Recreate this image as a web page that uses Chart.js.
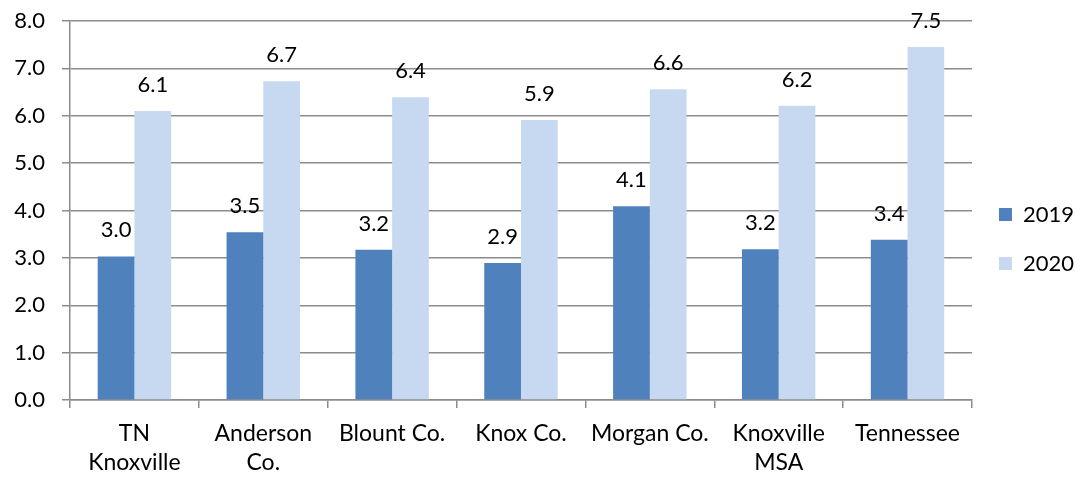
<!DOCTYPE html>
<html>
<head>
<meta charset="utf-8">
<script src="https://cdn.jsdelivr.net/npm/chart.js@4"></script>
<style>
  html, body { margin: 0; padding: 0; background: #fff; }
  #wrap { width: 1080px; height: 478px; }
</style>
</head>
<body>
<div id="wrap"><canvas id="chart" width="1080" height="478"></canvas></div>
<script>
// ── Data ─────────────────────────────────────────────────
const categories = [['TN', 'Knoxville'], ['Anderson', 'Co.'], 'Blount Co.', 'Knox Co.', 'Morgan Co.', ['Knoxville', 'MSA'], 'Tennessee'];
const seriesNames = ['2019', '2020'];
const values2019 = [3.03, 3.54, 3.17, 2.89, 4.09, 3.18, 3.38];
const values2020 = [6.10, 6.73, 6.39, 5.91, 6.56, 6.21, 7.45];
const colors     = ['#4F81BD', '#C6D9F1'];

const FONT = 'Lato, "Open Sans", sans-serif';
const GRID = '#8C8C8C';

// ── Value labels above each bar ──────────────────────────
const valueLabels = {
    id: 'valueLabels',
    afterDatasetsDraw(chart) {
        const ctx = chart.ctx;
        ctx.save();
        ctx.font = `22px ${FONT}`;
        ctx.fillStyle = '#000';
        ctx.textAlign = 'center';
        ctx.textBaseline = 'alphabetic';
        chart.data.datasets.forEach((ds, di) => {
            chart.getDatasetMeta(di).data.forEach((bar, i) => {
                ctx.fillText(ds.data[i].toFixed(1), bar.x, bar.y - 19);
            });
        });
        ctx.restore();
    }
};

new Chart(document.getElementById('chart'), {
    type: 'bar',
    data: {
        labels: categories,
        datasets: [
            { label: seriesNames[0], data: values2019, backgroundColor: colors[0] },
            { label: seriesNames[1], data: values2020, backgroundColor: colors[1] },
        ],
    },
    options: {
        responsive: false,
        animation: false,
        layout: { padding: { top: 0, right: -4, left: 0, bottom: 0 } },
        datasets: { bar: { categoryPercentage: 0.57, barPercentage: 1.0 } },
        plugins: {
            legend: {
                position: 'right',
                labels: { boxWidth: 13, boxHeight: 13, padding: 27, color: '#000', font: { family: FONT, size: 22 } },
            },
            tooltip: { enabled: false },
        },
        scales: {
            x: {
                offset: true,
                grid: { display: true, drawOnChartArea: false, drawTicks: true, tickLength: 8, color: GRID, lineWidth: 1.5, offset: true },
                border: { color: GRID, width: 1.5 },
                ticks: { color: '#000', padding: 11, maxRotation: 0, autoSkip: false, font: { family: FONT, size: 23, lineHeight: 1.26 } },
                afterFit(s) { s.height = 78; },
            },
            y: {
                min: 0, max: 8,
                grid: { color: GRID, lineWidth: 1.5, tickLength: 8 },
                border: { color: GRID, width: 1.5 },
                ticks: { stepSize: 1, color: '#000', padding: 17, font: { family: FONT, size: 22 }, callback: v => v.toFixed(1) },
                afterFit(s) { s.width = 70; s.paddingTop = 21; },
            },
        },
    },
    plugins: [valueLabels],
});
</script>
</body>
</html>
